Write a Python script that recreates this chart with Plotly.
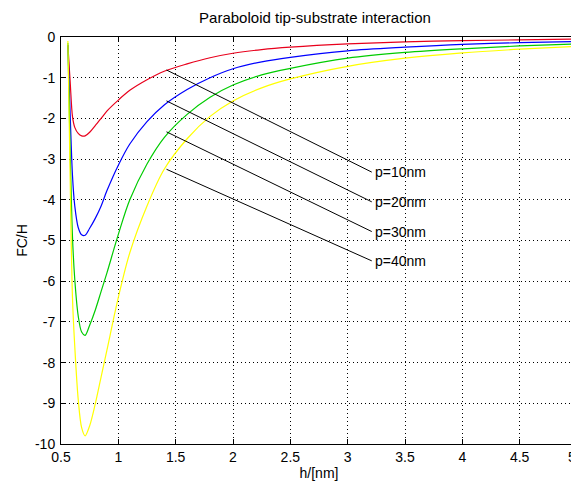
import plotly.graph_objects as go

# ---- data ----
h = [0.56, 0.58, 0.60, 0.62, 0.65, 0.68, 0.71, 0.75, 0.80, 0.85, 0.90, 1.0, 1.1,
     1.25, 1.4, 1.6, 1.8, 2.0, 2.25, 2.5, 3.0, 3.5, 4.0, 4.5, 5.0]

fc_p10 = [-0.2, -1.1, -1.95, -2.22, -2.37, -2.43, -2.43, -2.34, -2.17, -2.0, -1.82, -1.55, -1.31,
          -1.05, -0.84, -0.66, -0.51, -0.40, -0.31, -0.25, -0.17, -0.12, -0.09, -0.07, -0.05]
fc_p20 = [-0.2, -1.9, -3.4, -4.15, -4.68, -4.86, -4.87, -4.7, -4.45, -4.15, -3.78, -3.15, -2.63,
          -2.08, -1.67, -1.29, -1.0, -0.78, -0.61, -0.5, -0.34, -0.25, -0.18, -0.14, -0.11]
fc_p30 = [-0.15, -2.8, -4.9, -5.95, -6.85, -7.25, -7.33, -7.08, -6.7, -6.25, -5.8, -4.85, -4.0,
          -3.12, -2.47, -1.9, -1.48, -1.18, -0.93, -0.77, -0.52, -0.38, -0.29, -0.22, -0.17]
fc_p40 = [-0.1, -3.5, -6.4, -7.6, -8.9, -9.6, -9.8, -9.55, -9.0, -8.35, -7.7, -6.4, -5.3,
          -4.15, -3.25, -2.5, -1.95, -1.57, -1.25, -1.03, -0.72, -0.52, -0.39, -0.30, -0.23]

series_names = ["p=10nm", "p=20nm", "p=30nm", "p=40nm"]
series_colors = ["#e8001c", "#0000ff", "#00cc00", "#ffff00"]

# label pointer lines: start on curve, end at label
lab_h0 = [1.42, 1.42, 1.42, 1.42]
lab_y0 = [-0.81, -1.57, -2.33, -3.25]
lab_h1 = [3.21, 3.21, 3.21, 3.21]
lab_y1 = [-3.32, -4.05, -4.78, -5.50]

x_ticks = [0.5, 1, 1.5, 2, 2.5, 3, 3.5, 4, 4.5, 5]
y_ticks = [0, -1, -2, -3, -4, -5, -6, -7, -8, -9, -10]

FONT = "Liberation Sans, Arial, sans-serif"

fig = go.Figure()
for name, col, ys in zip(series_names, series_colors, [fc_p10, fc_p20, fc_p30, fc_p40]):
    fig.add_trace(go.Scatter(x=h, y=ys, mode="lines", name=name,
                             line=dict(color=col, width=1.2, shape="spline", smoothing=0.9),
                             showlegend=False, cliponaxis=True))

for i, name in enumerate(series_names):
    fig.add_shape(type="line", xref="x", yref="y",
                  x0=lab_h0[i], y0=lab_y0[i], x1=lab_h1[i], y1=lab_y1[i],
                  line=dict(color="black", width=1))
    fig.add_annotation(x=lab_h1[i], y=lab_y1[i], xref="x", yref="y", text=name,
                       showarrow=False, xanchor="left", yanchor="middle", xshift=1,
                       font=dict(family=FONT, size=14, color="black"))

# last x tick label sits on the page edge (plotly would hide it), draw it as text
fig.add_annotation(x=x_ticks[-1], y=0, xref="x", yref="paper", text=str(x_ticks[-1]),
                   showarrow=False, xanchor="right", yanchor="top", xshift=1, yshift=-3,
                   font=dict(family=FONT, size=14, color="black"))

axis_common = dict(showline=True, linecolor="black", linewidth=1, mirror="ticks",
                   ticks="inside", ticklen=5, tickcolor="black",
                   showgrid=True, gridcolor="black", gridwidth=1, griddash="1px,3px",
                   zeroline=False, automargin=False,
                   tickfont=dict(family=FONT, size=14, color="black"))

fig.update_xaxes(range=[0.5, 5], tickvals=x_ticks, ticktext=[str(v) for v in x_ticks],
                 title=dict(text="h/[nm]", font=dict(family=FONT, size=14, color="black"), standoff=0),
                 **axis_common)
fig.update_yaxes(range=[-10, 0], tickvals=y_ticks, ticktext=[str(v) for v in y_ticks],
                 ticklabelstandoff=2,
                 title=dict(text="FC/H", font=dict(family=FONT, size=14, color="black"), standoff=4),
                 **axis_common)

# the page body adds an 8px offset, so the figure is 8px smaller and shifted
fig.update_layout(
    width=571, height=480,
    margin=dict(l=53, r=2, t=29, b=44, autoexpand=False),
    paper_bgcolor="white", plot_bgcolor="white",
    title=dict(text="Paraboloid tip-substrate interaction", x=307 / 571, xanchor="center",
               y=1 - 10 / 480, yanchor="middle", yref="container",
               font=dict(family=FONT, size=15, color="black")),
)

fig.write_html("out.html")
